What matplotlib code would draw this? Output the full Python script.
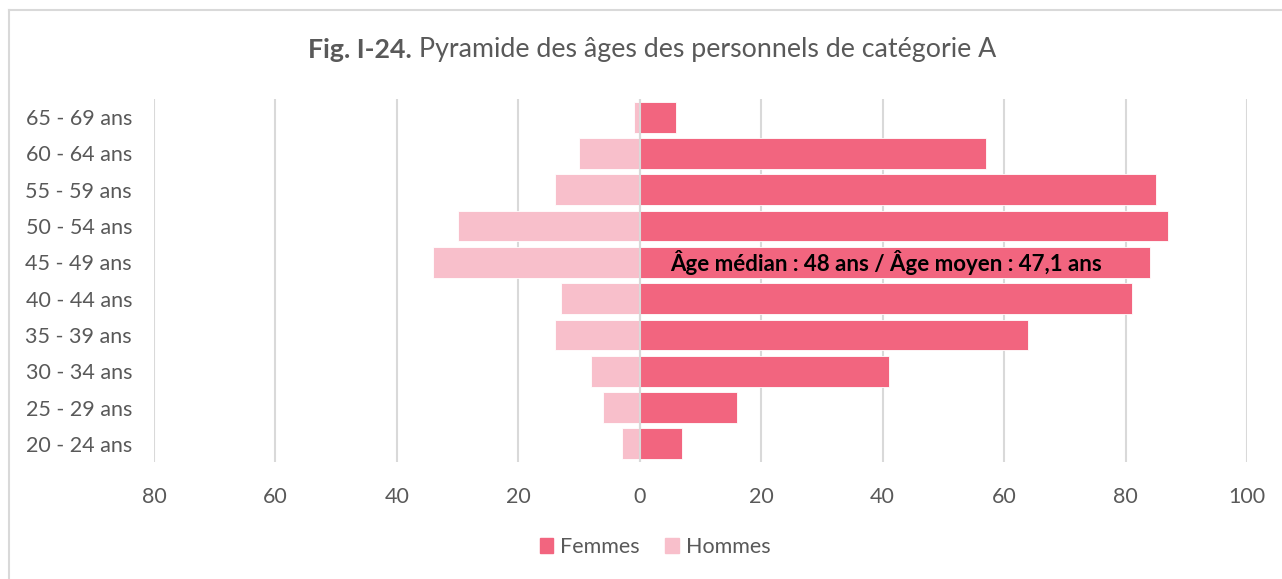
import matplotlib as mpl
mpl.use('Agg')
import matplotlib.pyplot as plt
from matplotlib.lines import Line2D
from matplotlib.patches import Patch

# Data (bottom row first)
ages = ['20 - 24 ans', '25 - 29 ans', '30 - 34 ans', '35 - 39 ans', '40 - 44 ans',
        '45 - 49 ans', '50 - 54 ans', '55 - 59 ans', '60 - 64 ans', '65 - 69 ans']
femmes = [7, 16, 41, 64, 81, 84, 87, 85, 57, 6]
hommes = [3, 6, 8, 14, 13, 34, 30, 14, 10, 1]
xticks = [-80, -60, -40, -20, 0, 20, 40, 60, 80, 100]
xtick_labels = [str(abs(v)) for v in xticks]
title_bold = 'Fig. I-24.'
title_rest = ' Pyramide des âges des personnels de catégorie A'
note = 'Âge médian : 48 ans / Âge moyen : 47,1 ans'

col_f = '#F2657F'
col_h = '#F8BFCB'
grey = '#595959'
grid_col = '#D9D9D9'

plt.rcParams['font.family'] = ['Lato', 'DejaVu Sans']

W, H, DPI = 1282, 579, 100
fig = plt.figure(figsize=(W / DPI, H / DPI), dpi=DPI)
ax = fig.add_axes([154 / W, 1 - 462 / H, (1247 - 154) / W, (462 - 99) / H])

y = list(range(len(ages)))
ax.barh(y, femmes, height=0.85, color=col_f, edgecolor='white', linewidth=0.6, zorder=2)
ax.barh(y, [-v for v in hommes], height=0.85, color=col_h, edgecolor='white', linewidth=0.6, zorder=2)

ax.set_xlim(-80, 100)
ax.set_ylim(-0.5, len(ages) - 0.5)
ax.set_xticks(xticks)
ax.set_xticklabels(xtick_labels)
ax.set_yticks(y)
ax.set_yticklabels(ages)
ax.tick_params(length=0, labelsize=15.5, labelcolor=grey)
ax.tick_params(axis='x', pad=18)
ax.tick_params(axis='y', pad=15.8)

for s in ax.spines.values():
    s.set_visible(False)
ax.grid(axis='x', color=grid_col, linewidth=1.5, zorder=0)
ax.set_axisbelow(True)
ax.axvline(0, color=grid_col, linewidth=1.5, zorder=3)

ax.text(5, 5, note, fontsize=16, fontweight='bold', color='black', va='center', ha='left', zorder=4)

# Title: bold prefix + regular remainder, centred together
fig.canvas.draw()
r = fig.canvas.get_renderer()
t1 = fig.text(0, 1 - 50 / H, title_bold, fontsize=19.3, fontweight='bold', color=grey, va='center')
t2 = fig.text(0, 1 - 50 / H, title_rest, fontsize=19.3, color=grey, va='center')
w1 = t1.get_window_extent(r).width
w2 = t2.get_window_extent(r).width
x0 = 652 - (w1 + w2) / 2
t1.set_x(x0 / W)
t2.set_x((x0 + w1) / W)

handles = [Patch(color=col_f, label='Femmes'), Patch(color=col_h, label='Hommes')]
leg = fig.legend(handles=handles, loc='center', bbox_to_anchor=(655 / W, 1 - 547 / H), ncol=2,
                 frameon=False, fontsize=15.5, handlelength=0.65, handleheight=0.65,
                 handletextpad=0.3, columnspacing=1.2)
for t in leg.get_texts():
    t.set_color(grey)

# Outer frame (top and left edges visible)
fig.add_artist(Line2D([9 / W, 1], [1 - 9.5 / H, 1 - 9.5 / H], color=grid_col, linewidth=1.5))
fig.add_artist(Line2D([9 / W, 9 / W], [0, 1 - 9.5 / H], color=grid_col, linewidth=1.5))

fig.savefig('out.png', dpi=DPI)
